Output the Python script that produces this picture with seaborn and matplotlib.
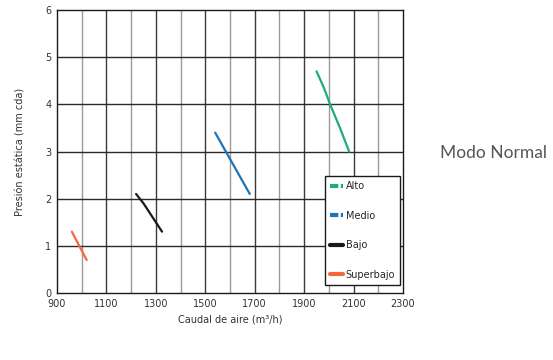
import matplotlib
matplotlib.use("Agg")
import matplotlib.pyplot as plt
import seaborn as sns
import pandas as pd
from matplotlib.lines import Line2D

sns.set_theme(style="white")
plt.rcParams['font.family'] = ['Liberation Sans Narrow', 'DejaVu Sans']

# Data
alto_x = [1950, 1980, 2005, 2045, 2082]
alto_y = [4.70, 4.35, 4.00, 3.50, 3.00]
medio_x = [1540, 1610, 1680]
medio_y = [3.40, 2.75, 2.10]
bajo_x = [1220, 1250, 1325]
bajo_y = [2.10, 1.90, 1.30]
superbajo_x = [960, 990, 1020]
superbajo_y = [1.30, 1.00, 0.70]

series = ["Alto", "Medio", "Bajo", "Superbajo"]
colors = {"Alto": "#1faa86", "Medio": "#1f74b6", "Bajo": "#1a1a1a", "Superbajo": "#f26a3c"}
x_ticks = [900, 1100, 1300, 1500, 1700, 1900, 2100, 2300]
y_ticks = [0, 1, 2, 3, 4, 5, 6]

frames = []
for name, xs, ys in [("Alto", alto_x, alto_y), ("Medio", medio_x, medio_y),
                     ("Bajo", bajo_x, bajo_y), ("Superbajo", superbajo_x, superbajo_y)]:
    frames.append(pd.DataFrame({"caudal": xs, "presion": ys, "modo": name}))
df = pd.concat(frames, ignore_index=True)

fig = plt.figure(figsize=(5.53, 3.60), dpi=100)
ax = fig.add_axes([57/553, 67/360, (403-57)/553, (293-10)/360])

# grid
for xv in range(1000, 2300, 100):
    c = "#3a3a3a" if xv % 200 == 100 else "#9a9a9a"
    ax.axvline(xv, color=c, lw=1.0, zorder=0)
for yv in range(1, 6):
    ax.axhline(yv, color="#2a2a2a", lw=1.0, zorder=0)

sns.lineplot(data=df, x="caudal", y="presion", hue="modo", palette=colors,
             hue_order=series, sort=False, estimator=None, lw=1.6, ax=ax, legend=False)

ax.set_xlim(900, 2300)
ax.set_ylim(0, 6)
ax.set_xticks(x_ticks)
ax.set_yticks(y_ticks)
ax.tick_params(axis="both", labelsize=7, colors="#333333", length=0, pad=4)
for s in ax.spines.values():
    s.set_color("#1a1a1a")
    s.set_linewidth(1.0)

ax.set_xlabel("Caudal de aire (m³/h)", fontsize=7, color="#333333", labelpad=4)
ax.set_ylabel("Presión estática (mm cda)", fontsize=7, color="#333333", labelpad=14)

handles = [
    Line2D([0], [0], color=colors["Alto"], lw=3, ls=(0, (2, 0.6))),
    Line2D([0], [0], color=colors["Medio"], lw=3, ls=(0, (2, 0.6))),
    Line2D([0], [0], color=colors["Bajo"], lw=3),
    Line2D([0], [0], color=colors["Superbajo"], lw=3),
]
leg = ax.legend(handles, series, loc="lower left", bbox_to_anchor=(0.775, 0.030),
                fontsize=7, frameon=True, fancybox=False, framealpha=1,
                edgecolor="#1a1a1a", handlelength=1.3, handletextpad=0.3,
                labelspacing=2.0, borderpad=0.5, borderaxespad=0)
leg.get_frame().set_linewidth(1.0)

fig.text(494/553, 1 - 153/360, "Modo Normal", fontsize=12.5, color="#555555",
         ha="center", va="center", family=["Lato", "DejaVu Sans"])

fig.savefig("out.png", dpi=100)
